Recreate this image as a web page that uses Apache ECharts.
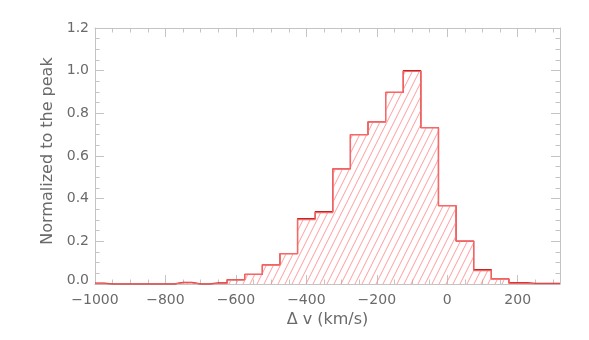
<!DOCTYPE html>
<html>
<head>
<meta charset="utf-8">
<script src="https://cdn.jsdelivr.net/npm/echarts@6/dist/echarts.min.js"></script>
<style>html,body{margin:0;padding:0;background:#fff;}#c{width:589px;height:340px;}</style>
</head>
<body>
<div id="c"></div>
<script>
// Bin centres (km/s), bin width 50
const binCenters = [-1000,-950,-900,-850,-800,-750,-700,-650,-600,-550,-500,-450,-400,-350,-300,-250,-200,-150,-100,-50,0,50,100,150,200,250,300];
// Dark-red histogram
const darkValues = [0.004,0.0,0.0,0.0,0.0,0.008,0.0,0.005,0.02,0.045,0.09,0.142,0.306,0.339,0.54,0.70,0.76,0.898,1.0,0.733,0.367,0.201,0.067,0.024,0.006,0.003,0.003];
// Red (hatched) histogram
const redValues  = [0.001,0.0,0.0,0.0,0.0,0.005,0.0,0.002,0.02,0.045,0.09,0.142,0.302,0.335,0.54,0.70,0.76,0.898,0.996,0.733,0.367,0.201,0.063,0.024,0.003,0.0,0.0];
const xMin = -1000, xMax = 320;
const xLabelTicks = [-1000,-800,-600,-400,-200,0,200];
const yMin = 0, yMax = 1.2;

const AXIS = '#c4c4c4', TXT = '#6a6a6a', FONT = 'DejaVu Sans';

function buildData(vals){
  const d = binCenters.map((x,i)=>[x, vals[i]]);
  d.push([xMax, vals[vals.length-1]]);
  return d;
}
function hatch(){
  const w=7,h=14;
  const c=document.createElement('canvas');c.width=w;c.height=h;
  const g=c.getContext('2d');
  g.strokeStyle='rgba(255,140,140,0.85)';g.lineWidth=1;
  for(const dx of [-w,0,w]){g.beginPath();g.moveTo(dx-1,h+2);g.lineTo(dx+w+1,-2);g.stroke();}
  return c;
}
function xAx(pos, interval, len, labels, line){
  return {
    type:'value', position:pos, min:xMin, max:xMax, interval:interval,
    axisLine:{show:line, onZero:false, lineStyle:{color:AXIS,width:1}},
    axisTick:{show:true, inside:true, length:len, lineStyle:{color:AXIS,width:1}},
    splitLine:{show:false},
    axisLabel: labels ? {show:true, margin:9, color:TXT, fontFamily:FONT, fontSize:14,
      formatter:v=> xLabelTicks.indexOf(v)>=0 ? (v<0?'\u2212'+Math.abs(v):String(v)) : ''} : {show:false},
    name: labels ? '\u0394 v (km/s)' : '',
    nameLocation:'middle', nameGap:28,
    nameTextStyle:{color:TXT, fontFamily:FONT, fontSize:16}
  };
}
function yAx(pos, labels){
  return {
    type:'value', position:pos, min:yMin, max:yMax, interval:0.2,
    axisLine:{show:true, onZero:false, lineStyle:{color:AXIS,width:1}},
    axisTick:{show:true, inside:true, length:9, lineStyle:{color:AXIS,width:1}},
    minorTick:{show:true, splitNumber:4, length:4.5, lineStyle:{color:AXIS,width:1}},
    splitLine:{show:false},
    axisLabel: labels ? {show:true, margin:6, color:TXT, fontFamily:FONT, fontSize:14,
      formatter:v=> v===0 ? '{z|0.0}' : v.toFixed(1),
      rich:{z:{color:TXT, fontFamily:FONT, fontSize:14, padding:[0,0,8,0]}}} : {show:false},
    name: labels ? 'Normalized to the peak' : '',
    nameLocation:'middle', nameGap:35,
    nameTextStyle:{color:TXT, fontFamily:FONT, fontSize:16, padding:[0,0,0,10]}
  };
}
const chart = echarts.init(document.getElementById('c'), null, {renderer:'canvas'});
chart.setOption({
  animation:false,
  backgroundColor:'#fff',
  grid:{left:95, right:29, top:28, bottom:56},
  xAxis:[xAx('bottom',200,9,true,true), xAx('bottom',50,4.5,false,false),
         xAx('top',200,9,false,true), xAx('top',50,4.5,false,false)],
  yAxis:[yAx('left',true), yAx('right',false)],
  series:[
    {type:'line', step:'middle', xAxisIndex:0, yAxisIndex:0, data:buildData(darkValues),
     showSymbol:false, symbol:'none', lineStyle:{color:'#b82a2a', width:1.3}, z:2},
    {type:'line', step:'middle', xAxisIndex:0, yAxisIndex:0, data:buildData(redValues),
     showSymbol:false, symbol:'none', lineStyle:{color:'#ff6464', width:1.2},
     areaStyle:{color:{image:hatch(), repeat:'repeat'}, opacity:1, origin:'start'}, z:3}
  ]
});
</script>
</body>
</html>
